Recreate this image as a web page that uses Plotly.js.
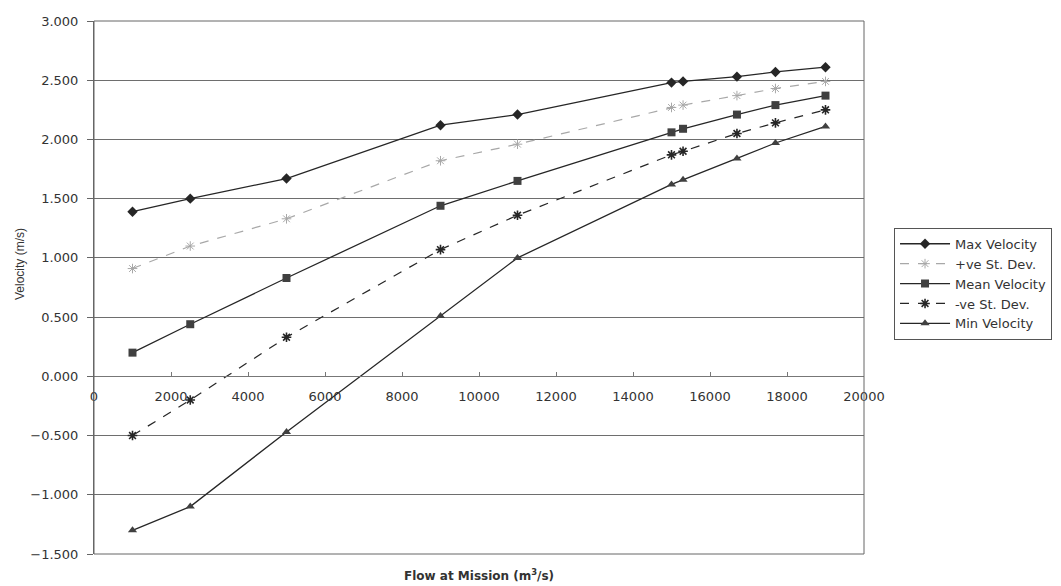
<!DOCTYPE html>
<html>
<head>
<meta charset="utf-8">
<script src="https://cdn.plot.ly/plotly-3.0.1.min.js"></script>
<style>
  html, body { margin: 0; padding: 0; background: #ffffff; }
  #chart { width: 1061px; height: 586px; }
</style>
</head>
<body>
<div id="chart"></div>
<script>
// Data
var flow = [1000, 2500, 5000, 9000, 11000, 15000, 15300, 16700, 17700, 19000];
var maxVelocity  = [1.39, 1.50, 1.67, 2.12, 2.21, 2.48, 2.49, 2.53, 2.57, 2.61];
var posStDev     = [0.91, 1.10, 1.33, 1.82, 1.96, 2.27, 2.29, 2.37, 2.43, 2.49];
var meanVelocity = [0.20, 0.44, 0.83, 1.44, 1.65, 2.06, 2.09, 2.21, 2.29, 2.37];
var negStDev     = [-0.50, -0.20, 0.33, 1.07, 1.36, 1.87, 1.90, 2.05, 2.14, 2.25];
var minVelocity  = [-1.30, -1.10, -0.47, 0.51, 1.00, 1.62, 1.66, 1.84, 1.97, 2.11];

var seriesNames = ['Max Velocity', '+ve St. Dev.', 'Mean Velocity', '-ve St. Dev.', 'Min Velocity'];
var xTickVals = [0, 2000, 4000, 6000, 8000, 10000, 12000, 14000, 16000, 18000, 20000];
var yTickVals = [-1.5, -1.0, -0.5, 0, 0.5, 1.0, 1.5, 2.0, 2.5, 3.0];
var xTitle = '<b>Flow at Mission (m<sup>3</sup>/s)</b>';
var yTitle = 'Velocity (m/s)';

var yMin = -1.5, yMax = 3.0;

var dark = '#262626';
var light = '#a8a8a8';
var wideFont = '"DejaVu Sans", Verdana, sans-serif';
var narrowFont = 'Arial, "Liberation Sans", sans-serif';

var traces = [
  {x: flow, y: maxVelocity, name: seriesNames[0], mode: 'lines+markers',
   line: {color: dark, width: 1.3}, marker: {symbol: 'diamond', size: 8, color: dark}},
  {x: flow, y: posStDev, name: seriesNames[1], mode: 'lines+markers',
   line: {color: light, width: 1.2, dash: 'dash'}, marker: {symbol: 'asterisk-open', size: 8, color: light, line: {color: light, width: 1}}},
  {x: flow, y: meanVelocity, name: seriesNames[2], mode: 'lines+markers',
   line: {color: dark, width: 1.3}, marker: {symbol: 'square', size: 8, color: '#404040'}},
  {x: flow, y: negStDev, name: seriesNames[3], mode: 'lines+markers',
   line: {color: dark, width: 1.2, dash: 'dash'}, marker: {symbol: 'asterisk-open', size: 8, color: dark, line: {color: dark, width: 1.6}}},
  {x: flow, y: minVelocity, name: seriesNames[4], mode: 'lines+markers',
   line: {color: dark, width: 1.3}, marker: {symbol: 'triangle-up', size: 8, color: '#404040'}}
];

var layout = {
  width: 1061, height: 586,
  margin: {l: 94, r: 197, t: 21, b: 32, autoexpand: false},
  paper_bgcolor: '#ffffff', plot_bgcolor: '#ffffff',
  font: {family: wideFont, size: 13, color: '#333333'},
  showlegend: true,
  legend: {
    x: 1.039, y: 0.612, xanchor: 'left', yanchor: 'top',
    bordercolor: '#555555', borderwidth: 1, bgcolor: '#ffffff',
    itemwidth: 50,
    font: {family: wideFont, size: 13, color: '#333333'}, tracegroupgap: 0
  },
  xaxis: {
    range: [0, 20000], tickvals: xTickVals, tickformat: 'd',
    anchor: 'free', position: (0 - yMin) / (yMax - yMin),
    showline: true, linecolor: '#777777', linewidth: 1,
    ticks: 'inside', ticklen: 4, tickcolor: '#777777',
    ticklabelstandoff: 8,
    showgrid: false, zeroline: false, automargin: false,
    tickfont: {family: wideFont, size: 13, color: '#333333'}
  },
  yaxis: {
    range: [yMin, yMax], tickvals: yTickVals, tickformat: '.3f',
    showline: true, linecolor: '#666666', linewidth: 1,
    ticks: 'outside', ticklen: 6, tickcolor: '#666666',
    ticklabelstandoff: 6, automargin: false,
    showgrid: true, gridcolor: '#6e6e6e', gridwidth: 1,
    zeroline: false,
    tickfont: {family: wideFont, size: 13, color: '#333333'}
  },
  shapes: [
    {type: 'rect', xref: 'paper', yref: 'paper', x0: 0, x1: 1, y0: 0, y1: 1,
     line: {color: '#666666', width: 1}, fillcolor: 'rgba(0,0,0,0)'}
  ],
  annotations: [
    {xref: 'paper', yref: 'paper', x: 0.5, y: 0, yshift: -11, xanchor: 'center', yanchor: 'top',
     showarrow: false, text: xTitle,
     font: {family: wideFont, size: 12, color: '#333333'}},
    {xref: 'paper', yref: 'paper', x: 0, xshift: -74, y: 0.544, xanchor: 'center', yanchor: 'middle',
     textangle: -90, showarrow: false, text: yTitle,
     font: {family: narrowFont, size: 12, color: '#333333'}}
  ]
};

Plotly.newPlot('chart', traces, layout, {displayModeBar: false, staticPlot: true});
</script>
</body>
</html>
